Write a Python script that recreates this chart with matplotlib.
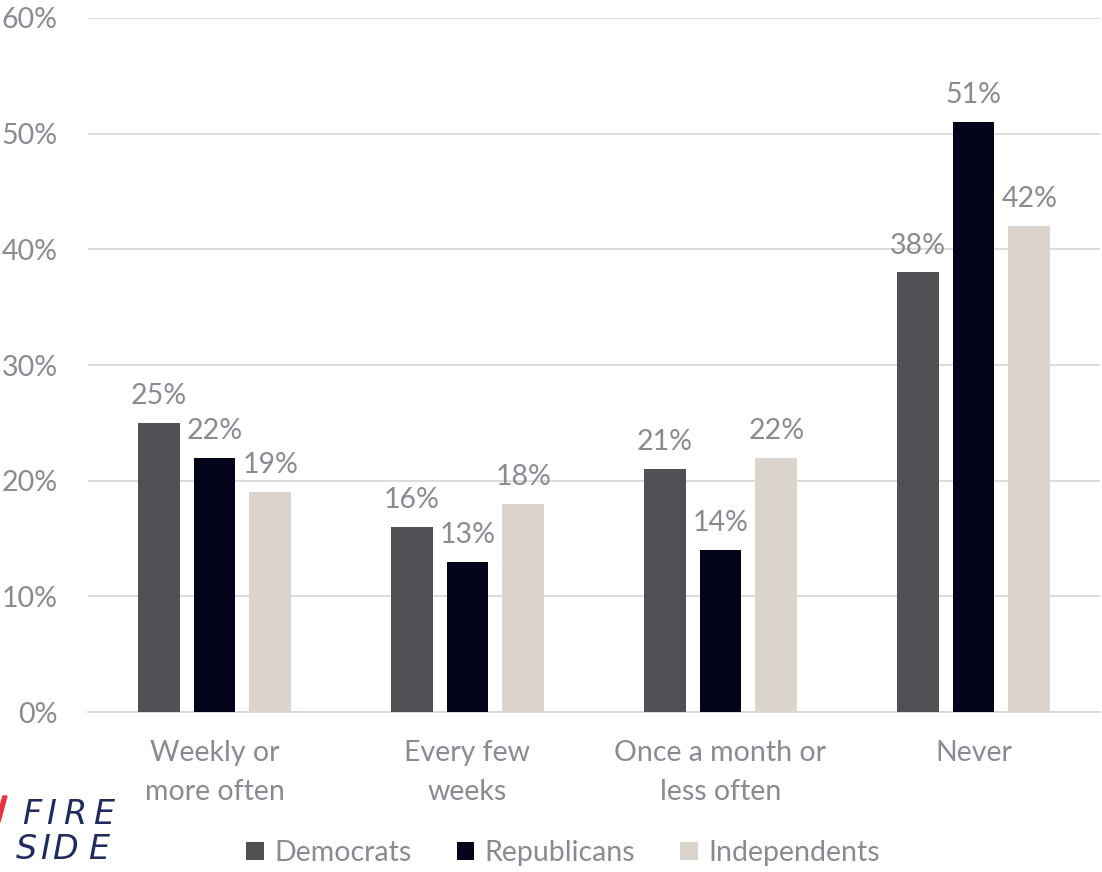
import matplotlib.pyplot as plt
import numpy as np

# Survey data: how often respondents do it, split by party
categories = ["Weekly or\nmore often", "Every few\nweeks", "Once a month or\nless often", "Never"]
democrats = [25, 16, 21, 38]
republicans = [22, 13, 14, 51]
independents = [19, 18, 22, 42]

series = ["Democrats", "Republicans", "Independents"]
colors = ["#505055", "#03031a", "#dcd5ce"]
text_gray = "#8a8a94"
fs = 20.5

plt.rcParams['font.family'] = ['Lato', 'DejaVu Sans']

fig = plt.figure(figsize=(11.02, 8.72), dpi=100)
ax = fig.add_axes([88 / 1102, 1 - 712 / 872, (1100 - 88) / 1102, (712 - 18) / 872])

x = np.arange(len(categories))
width = 0.166
step = 0.221
for i, (name, vals) in enumerate(zip(series, [democrats, republicans, independents])):
    pos = x + (i - 1) * step
    bars = ax.bar(pos, vals, width, color=colors[i], label=name, zorder=3)
    for b, v in zip(bars, vals):
        ax.text(b.get_x() + b.get_width() / 2, v + 1.2, f"{v}%", ha="center", va="bottom",
                fontsize=fs, color=text_gray)

ax.set_xlim(-0.5, 3.5)
ax.set_ylim(0, 60)
ax.set_yticks(range(0, 61, 10))
ax.set_yticklabels([f"{t}%" for t in range(0, 61, 10)])
ax.yaxis.grid(True, color="#d9d9d9", linewidth=1.3, zorder=0)
ax.set_axisbelow(True)
for s in ["top", "right", "left"]:
    ax.spines[s].set_visible(False)
ax.spines["bottom"].set_color("#d9d9d9")
ax.spines["bottom"].set_linewidth(1.3)
ax.tick_params(axis="y", length=0, labelsize=fs, labelcolor=text_gray, pad=22)
ax.tick_params(axis="x", length=0, labelsize=fs, labelcolor=text_gray, pad=20)
ax.set_xticks(x)
ax.set_xticklabels(categories, linespacing=1.62)

fig.legend(loc="center", bbox_to_anchor=(563 / 1102, 1 - 853 / 872), ncol=3, frameon=False,
           fontsize=fs, handlelength=0.62, handleheight=0.62, handletextpad=0.35,
           columnspacing=1.6, labelcolor=text_gray)

# Fireside logo in the lower left corner
navy = "#1f2b5e"
for ch, cx in zip("FIRE", [32, 51, 75, 104]):
    fig.text(cx / 1102, 1 - 814 / 872, ch, fontsize=24, style="italic", color=navy,
             va="center", ha="center", family="DejaVu Sans")
for ch, cx in zip("SIDE", [26, 45, 65, 99]):
    fig.text(cx / 1102, 1 - 849 / 872, ch, fontsize=24, style="italic", color=navy,
             va="center", ha="center", family="DejaVu Sans")
flame = plt.Polygon([[0, 1 - 822 / 872], [7 / 1102, 1 - 796 / 872], [3 / 1102, 1 - 796 / 872],
                     [0, 1 - 806 / 872]], closed=True, transform=fig.transFigure,
                    color="#e8343f")
fig.patches.append(flame)

fig.savefig("out.png", dpi=100)
